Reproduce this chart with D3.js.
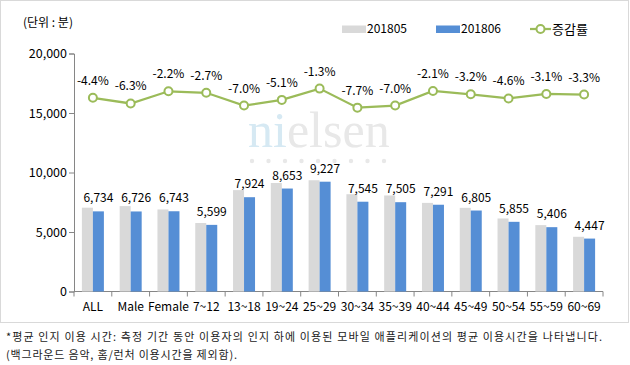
<!DOCTYPE html>
<html>
<head>
<meta charset="utf-8">
<script src="https://cdn.jsdelivr.net/npm/d3@7"></script>
<style>
  body { margin: 0; background: #fff; }
  text { font-family: "Noto Sans CJK KR", sans-serif; fill: #000; }
</style>
</head>
<body>
<svg id="chart" width="630" height="365"></svg>
<script>
const categories = ['ALL', 'Male', 'Female', '7~12', '13~18', '19~24', '25~29', '30~34', '35~39', '40~44', '45~49', '50~54', '55~59', '60~69'];
const may = [7044, 7178, 6895, 5754, 8520, 9118, 9349, 8174, 8070, 7447, 7030, 6137, 5579, 4599];
const june = [6734, 6726, 6743, 5599, 7924, 8653, 9227, 7545, 7505, 7291, 6805, 5855, 5406, 4447];
const rate = [-4.4, -6.3, -2.2, -2.7, -7.0, -5.1, -1.3, -7.7, -7.0, -2.1, -3.2, -4.6, -3.1, -3.3];
const yTicks = [0, 5000, 10000, 15000, 20000];
const seriesNames = ['201805', '201806', '증감률'];
const unitLabel = '(단위 : 분)';
const notes = [
  '*평균 인지 이용 시간: 측정 기간 동안 이용자의 인지 하에 이용된 모바일 애플리케이션의 평균 이용시간을 나타냅니다.',
  '(백그라운드 음악, 홈/런처 이용시간을 제외함).',
];

const colors = { may: '#d9d9d9', june: '#558ed5', rate: '#9bbb59', axis: '#868686' };

const svg = d3.select('#chart');

// frame
svg.append('rect')
  .attr('x', 0.5).attr('y', 0.5).attr('width', 628).attr('height', 322)
  .attr('fill', '#fff').attr('stroke', '#d9d9d9');

const x = d3.scaleBand().domain(categories).range([74, 603]);
const y = d3.scaleLinear().domain([0, 20000]).range([291.5, 53.5]);
const yRate = d3.scaleLinear().domain([-69.5, 10.5]).range([291.5, 53.5]);
const bw = x.bandwidth();
const barW = 11;
const mid = (c) => x(c) + bw / 2;

// watermark (serif word + row of dots)
const wm = svg.append('g').attr('transform', 'translate(248,147)');
wm.append('text').attr('x', 0).attr('y', 0)
  .style('font-family', '"Liberation Serif", serif').style('font-size', '50px')
  .style('fill', '#d6e9f3').text('ni');
wm.append('text').attr('x', 38.9).attr('y', 0)
  .style('font-family', '"Liberation Serif", serif').style('font-size', '50px')
  .style('fill', '#e8e8e8').text('elsen');
svg.append('g').selectAll('circle').data(d3.range(9)).join('circle')
  .attr('cx', (d) => 252 + d * 16.5).attr('cy', 161).attr('r', 2.2)
  .attr('fill', '#e8e8e8');

// y axis
const yAxis = svg.append('g')
  .attr('transform', 'translate(74,0)')
  .call(d3.axisLeft(y).tickValues(yTicks).tickFormat(d3.format(',')).tickSize(5).tickPadding(2));
yAxis.selectAll('path, line').attr('stroke', colors.axis);
yAxis.selectAll('text').style('font-size', '12.5px').style('font-family', '"Noto Sans CJK KR", sans-serif').attr('fill', '#000');

// x axis
const xAxis = svg.append('g');
xAxis.append('line')
  .attr('x1', 74).attr('x2', 603).attr('y1', y(0)).attr('y2', y(0))
  .attr('stroke', colors.axis);
xAxis.selectAll('.tick').data(categories.concat(['end'])).join('line')
  .attr('class', 'tick')
  .attr('x1', (d, i) => (i < categories.length ? x(d) : x.range()[1]))
  .attr('x2', (d, i) => (i < categories.length ? x(d) : x.range()[1]))
  .attr('y1', y(0)).attr('y2', y(0) + 5)
  .attr('stroke', colors.axis);
xAxis.selectAll('.lbl').data(categories).join('text')
  .attr('class', 'lbl')
  .attr('x', mid).attr('y', 311)
  .attr('text-anchor', 'middle')
  .style('font-size', '12px')
  .text((d) => d);

// bars
svg.append('g').selectAll('rect').data(categories).join('rect')
  .attr('x', (c) => mid(c) - barW)
  .attr('y', (c, i) => y(may[i]))
  .attr('width', barW)
  .attr('height', (c, i) => y(0) - y(may[i]))
  .attr('fill', colors.may);
svg.append('g').selectAll('rect').data(categories).join('rect')
  .attr('x', (c) => mid(c))
  .attr('y', (c, i) => y(june[i]))
  .attr('width', barW)
  .attr('height', (c, i) => y(0) - y(june[i]))
  .attr('fill', colors.june);

// bar value labels
svg.append('g').selectAll('text').data(categories).join('text')
  .attr('x', (c) => mid(c) + barW / 2)
  .attr('y', (c, i) => y(june[i]) - 9)
  .attr('text-anchor', 'middle')
  .style('font-size', '12px')
  .text((c, i) => d3.format(',')(june[i]));

// rate line
const line = d3.line()
  .x((d, i) => mid(categories[i]))
  .y((d) => yRate(d));
svg.append('path')
  .datum(rate)
  .attr('d', line)
  .attr('fill', 'none')
  .attr('stroke', colors.rate)
  .attr('stroke-width', 2.25);
svg.append('g').selectAll('circle').data(rate).join('circle')
  .attr('cx', (d, i) => mid(categories[i]))
  .attr('cy', (d) => yRate(d))
  .attr('r', 4)
  .attr('fill', '#fff')
  .attr('stroke', colors.rate)
  .attr('stroke-width', 2);
svg.append('g').selectAll('text').data(rate).join('text')
  .attr('x', (d, i) => mid(categories[i]))
  .attr('y', (d) => yRate(d) - 13)
  .attr('text-anchor', 'middle')
  .style('font-size', '12px')
  .text((d) => d.toFixed(1) + '%');

// unit label
svg.append('text')
  .attr('x', 23).attr('y', 27)
  .style('font-size', '12px')
  .text(unitLabel);

// legend
const legend = svg.append('g');
legend.append('rect').attr('x', 342).attr('y', 25.5).attr('width', 24).attr('height', 7.5).attr('fill', colors.may);
legend.append('text').attr('x', 367).attr('y', 33).style('font-size', '12px').text(seriesNames[0]);
legend.append('rect').attr('x', 436).attr('y', 25.5).attr('width', 24).attr('height', 7.5).attr('fill', colors.june);
legend.append('text').attr('x', 461).attr('y', 33).style('font-size', '12px').text(seriesNames[1]);
legend.append('line').attr('x1', 530).attr('x2', 551).attr('y1', 29).attr('y2', 29)
  .attr('stroke', colors.rate).attr('stroke-width', 2.25);
legend.append('circle').attr('cx', 540.5).attr('cy', 29).attr('r', 4)
  .attr('fill', '#fff').attr('stroke', colors.rate).attr('stroke-width', 2);
legend.append('text').attr('x', 552).attr('y', 34).style('font-size', '13px').text(seriesNames[2]);

// footnotes
svg.append('text')
  .attr('x', 6).attr('y', 341)
  .attr('textLength', 596).attr('lengthAdjust', 'spacing')
  .style('font-size', '11px').style('fill', '#1a1a1a')
  .text(notes[0]);
svg.append('text')
  .attr('x', 6).attr('y', 359)
  .attr('textLength', 231).attr('lengthAdjust', 'spacing')
  .style('font-size', '11px').style('fill', '#1a1a1a')
  .text(notes[1]);
</script>
</body>
</html>
